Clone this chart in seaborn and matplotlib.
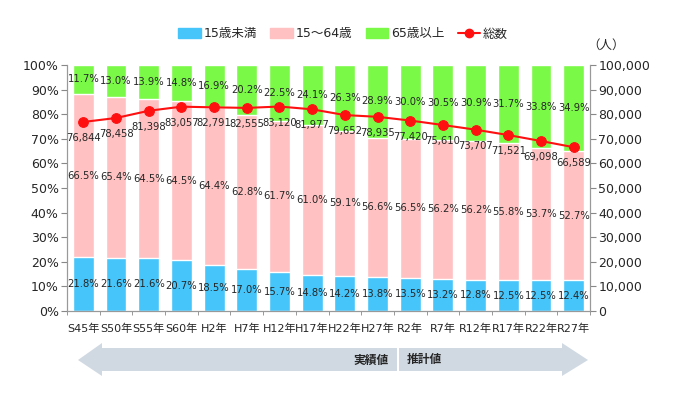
import matplotlib
matplotlib.use("Agg")
import matplotlib.pyplot as plt
import seaborn as sns
import numpy as np
from matplotlib.patches import Polygon, Patch
from matplotlib.lines import Line2D
from matplotlib.ticker import FuncFormatter

sns.set_style("white")
plt.rcParams['font.family'] = ['DejaVu Sans', 'Noto Sans CJK JP']

years = ["S45年", "S50年", "S55年", "S60年", "H2年", "H7年", "H12年", "H17年",
         "H22年", "H27年", "R2年", "R7年", "R12年", "R17年", "R22年", "R27年"]
under15 = [21.8, 21.6, 21.6, 20.7, 18.5, 17.0, 15.7, 14.8, 14.2, 13.8, 13.5, 13.2, 12.8, 12.5, 12.5, 12.4]
age15_64 = [66.5, 65.4, 64.5, 64.5, 64.4, 62.8, 61.7, 61.0, 59.1, 56.6, 56.5, 56.2, 56.2, 55.8, 53.7, 52.7]
over65 = [11.7, 13.0, 13.9, 14.8, 16.9, 20.2, 22.5, 24.1, 26.3, 28.9, 30.0, 30.5, 30.9, 31.7, 33.8, 34.9]
totals = [76844, 78458, 81398, 83057, 82791, 82555, 83120, 81977, 79652, 78935,
          77420, 75610, 73707, 71521, 69098, 66589]

c_blue = "#45c5fa"
c_pink = "#ffc1c1"
c_green = "#7afa46"
c_red = "#ff1010"

u = np.array(under15)
m = np.array(age15_64)
o = np.array(over65)
x = np.arange(len(years))
# shares are rounded, so the stack is normalised to 100%
top = (u + m + o) / (u + m + o) * 100

fig = plt.figure(figsize=(6.83, 3.94), dpi=100)
ax = fig.add_axes([67 / 683, 1 - 311 / 394, (590 - 67) / 683, (311 - 65) / 394])

# stacked bars drawn as overlapping cumulative totals
sns.barplot(x=years, y=top, color=c_green, width=0.64, saturation=1, ax=ax)
sns.barplot(x=years, y=u + m, color=c_pink, width=0.64, saturation=1, ax=ax)
sns.barplot(x=years, y=u, color=c_blue, width=0.64, saturation=1, ax=ax)

ax.set_ylim(0, 100)
ax.set_xlim(-0.5, len(years) - 0.5)
ax.set_yticks(np.arange(0, 101, 10))
ax.yaxis.set_major_formatter(FuncFormatter(lambda v, p: f"{int(v)}%"))
ax.tick_params(axis='y', labelsize=9, length=4, color="#888888", left=True, pad=2)
ax.tick_params(axis='x', labelsize=8, length=0, pad=9)
ax.set_xticks(np.arange(-0.5, len(years), 1), minor=True)
ax.tick_params(axis='x', which='minor', length=3, color="#888888", bottom=True)
for s in ["left", "bottom", "right"]:
    ax.spines[s].set_color("#999999")
ax.spines["top"].set_visible(False)
ax.set_xlabel("")
ax.set_ylabel("")

for i in x:
    ax.text(i, u[i] / 2, f"{u[i]:.1f}%", ha='center', va='center', fontsize=7.2)
    ax.text(i, u[i] + m[i] / 2, f"{m[i]:.1f}%", ha='center', va='center', fontsize=7.2)
    ax.text(i, (u[i] + m[i] + 100) / 2, f"{o[i]:.1f}%", ha='center', va='center', fontsize=7.2)

ax2 = ax.twinx()
sns.lineplot(x=x, y=totals, color=c_red, marker='o', markersize=7,
             markeredgecolor=c_red, linewidth=1.5, ax=ax2)
ax2.set_ylim(0, 100000)
ax2.set_yticks(np.arange(0, 100001, 10000))
ax2.yaxis.set_major_formatter(FuncFormatter(lambda v, p: f"{int(v):,}"))
ax2.tick_params(axis='y', labelsize=9, length=4, color="#888888", right=True, pad=2)
for s in ["left", "bottom", "right"]:
    ax2.spines[s].set_color("#999999")
ax2.spines["top"].set_visible(False)
ax2.set_ylabel("")
for i in x:
    ax2.annotate(f"{totals[i]:,}", (i, totals[i]), xytext=(0, -8), textcoords='offset points',
                 ha='center', va='top', fontsize=7.2)

handles = [Patch(color=c_blue), Patch(color=c_pink), Patch(color=c_green),
           Line2D([0], [0], color=c_red, marker='o', markersize=6, linewidth=1.5)]
fig.legend(handles, ["15歳未満", "15～64歳", "65歳以上", "総数"], ncol=4, frameon=False,
           loc='center', bbox_to_anchor=(343 / 683, 1 - 34 / 394), fontsize=9,
           handlelength=1.8, handleheight=0.8, columnspacing=1.1, handletextpad=0.2)
fig.text(606 / 683, 1 - 45 / 394, "（人）", fontsize=9, ha='center', va='center')

# bottom arrows for actual / projected values
ov = fig.add_axes([0, 0, 1, 1], zorder=-1)
ov.set_xlim(0, 683)
ov.set_ylim(394, 0)
ov.axis('off')
arrow_c = "#d0d9e2"
ov.add_patch(Polygon([(78, 360), (102, 343), (102, 348), (397, 348), (397, 371), (102, 371), (102, 376)],
                     closed=True, color=arrow_c, lw=0))
ov.add_patch(Polygon([(399, 348), (562, 348), (562, 343), (588, 360), (562, 376), (562, 371), (399, 371)],
                     closed=True, color=arrow_c, lw=0))
ov.text(389, 360, "実績値", ha='right', va='center', fontsize=8.5, fontweight='bold')
ov.text(407, 360, "推計値", ha='left', va='center', fontsize=8.5, fontweight='bold')

fig.savefig("out.png", dpi=100)
